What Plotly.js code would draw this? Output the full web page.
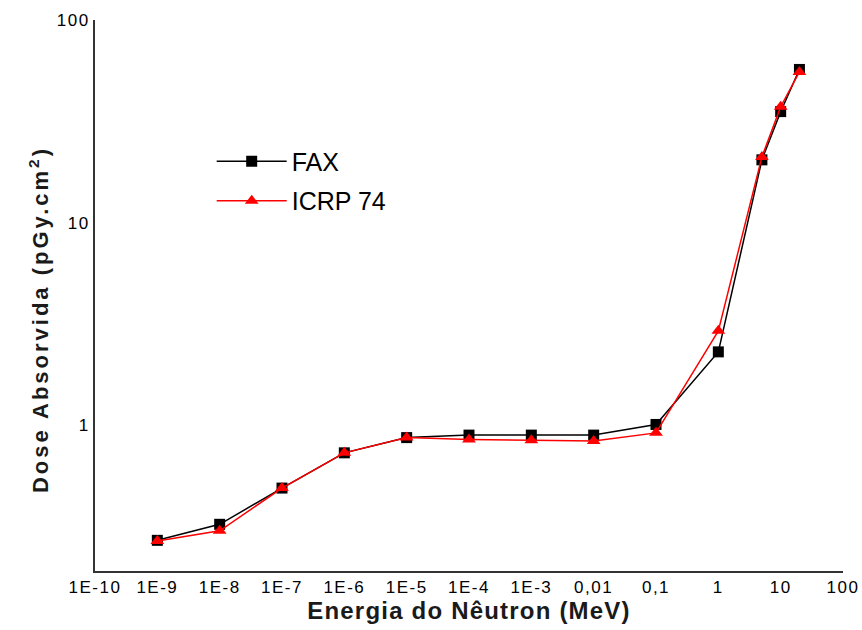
<!DOCTYPE html>
<html>
<head>
<meta charset="utf-8">
<script src="https://cdn.plot.ly/plotly-3.0.1.min.js"></script>
<style>
html,body{margin:0;padding:0;background:#fff;}
#chart{width:862px;height:630px;}
#chart .xtick text, #chart .ytick text{letter-spacing:1.5px;}
#chart .xtitle{letter-spacing:1.2px;}
#chart .annotation-text{letter-spacing:3px;}
</style>
</head>
<body>
<div id="chart"></div>
<script>
var energy = [1e-9, 1e-8, 1e-7, 1e-6, 1e-5, 1e-4, 1e-3, 0.01, 0.1, 1, 5, 10, 20];
var doseFAX = [0.27, 0.324, 0.489, 0.73, 0.868, 0.893, 0.893, 0.893, 1.008, 2.30, 20.4, 35.3, 57];
var doseICRP = [0.268, 0.301, 0.489, 0.73, 0.868, 0.85, 0.843, 0.836, 0.916, 2.92, 21.1, 37.3, 55.4];
var xTickVals = [1e-10, 1e-9, 1e-8, 1e-7, 1e-6, 1e-5, 1e-4, 1e-3, 0.01, 0.1, 1, 10, 100];
var xTickText = ["1E-10", "1E-9", "1E-8", "1E-7", "1E-6", "1E-5", "1E-4", "1E-3", "0,01", "0,1", "1", "10", "100"];
var yTickVals = [1, 10, 100];
var yTickText = ["1", "10", "100"];

var traces = [
  {x: energy, y: doseFAX, name: "FAX", type: "scatter", mode: "lines+markers", legendgroup: "a",
   line: {color: "#000000", width: 1.5},
   marker: {symbol: "square", size: 11, color: "#000000"}},
  {x: energy, y: doseICRP, name: "ICRP 74", type: "scatter", mode: "lines+markers", legendgroup: "b",
   line: {color: "#ff0000", width: 1.5},
   marker: {symbol: "triangle-up", size: 12, color: "#ff0000"}}
];

var layout = {
  width: 862, height: 630,
  margin: {l: 95, r: 19, t: 20, b: 59},
  paper_bgcolor: "#ffffff", plot_bgcolor: "#ffffff",
  font: {family: "Liberation Sans, Arial, sans-serif", color: "#000"},
  showlegend: true,
  legend: {x: 0.156, y: 0.785, xanchor: "left", yanchor: "top",
           font: {size: 25, color: "#000"}, bgcolor: "rgba(0,0,0,0)",
           itemwidth: 70, tracegroupgap: 4},
  xaxis: {type: "log", range: [-10, 2], tickmode: "array", tickvals: xTickVals, ticktext: xTickText,
          showgrid: false, zeroline: false, showline: true, linecolor: "#333", linewidth: 2,
          ticks: "", tickfont: {size: 17, color: "#000"},
          title: {text: "Energia do Nêutron (MeV)", font: {size: 24, color: "#1a1a1a", family: "Liberation Sans, Arial, sans-serif", weight: "bold"}, standoff: 6}},
  yaxis: {type: "log", range: [-0.72, 2], tickmode: "array", tickvals: yTickVals, ticktext: yTickText,
          showgrid: false, zeroline: false, showline: true, linecolor: "#333", linewidth: 2,
          ticks: "", tickfont: {size: 17, color: "#000"}},
  annotations: [
    {text: "Dose Absorvida (pGy.cm<sup>2</sup>)", xref: "paper", yref: "paper", x: -0.075, y: 0.457,
     xanchor: "center", yanchor: "middle", textangle: -90, showarrow: false,
     font: {size: 22, color: "#1a1a1a", family: "Liberation Sans, Arial, sans-serif", weight: "bold"}}
  ]
};

Plotly.newPlot("chart", traces, layout, {displayModeBar: false, staticPlot: true});
</script>
</body>
</html>
